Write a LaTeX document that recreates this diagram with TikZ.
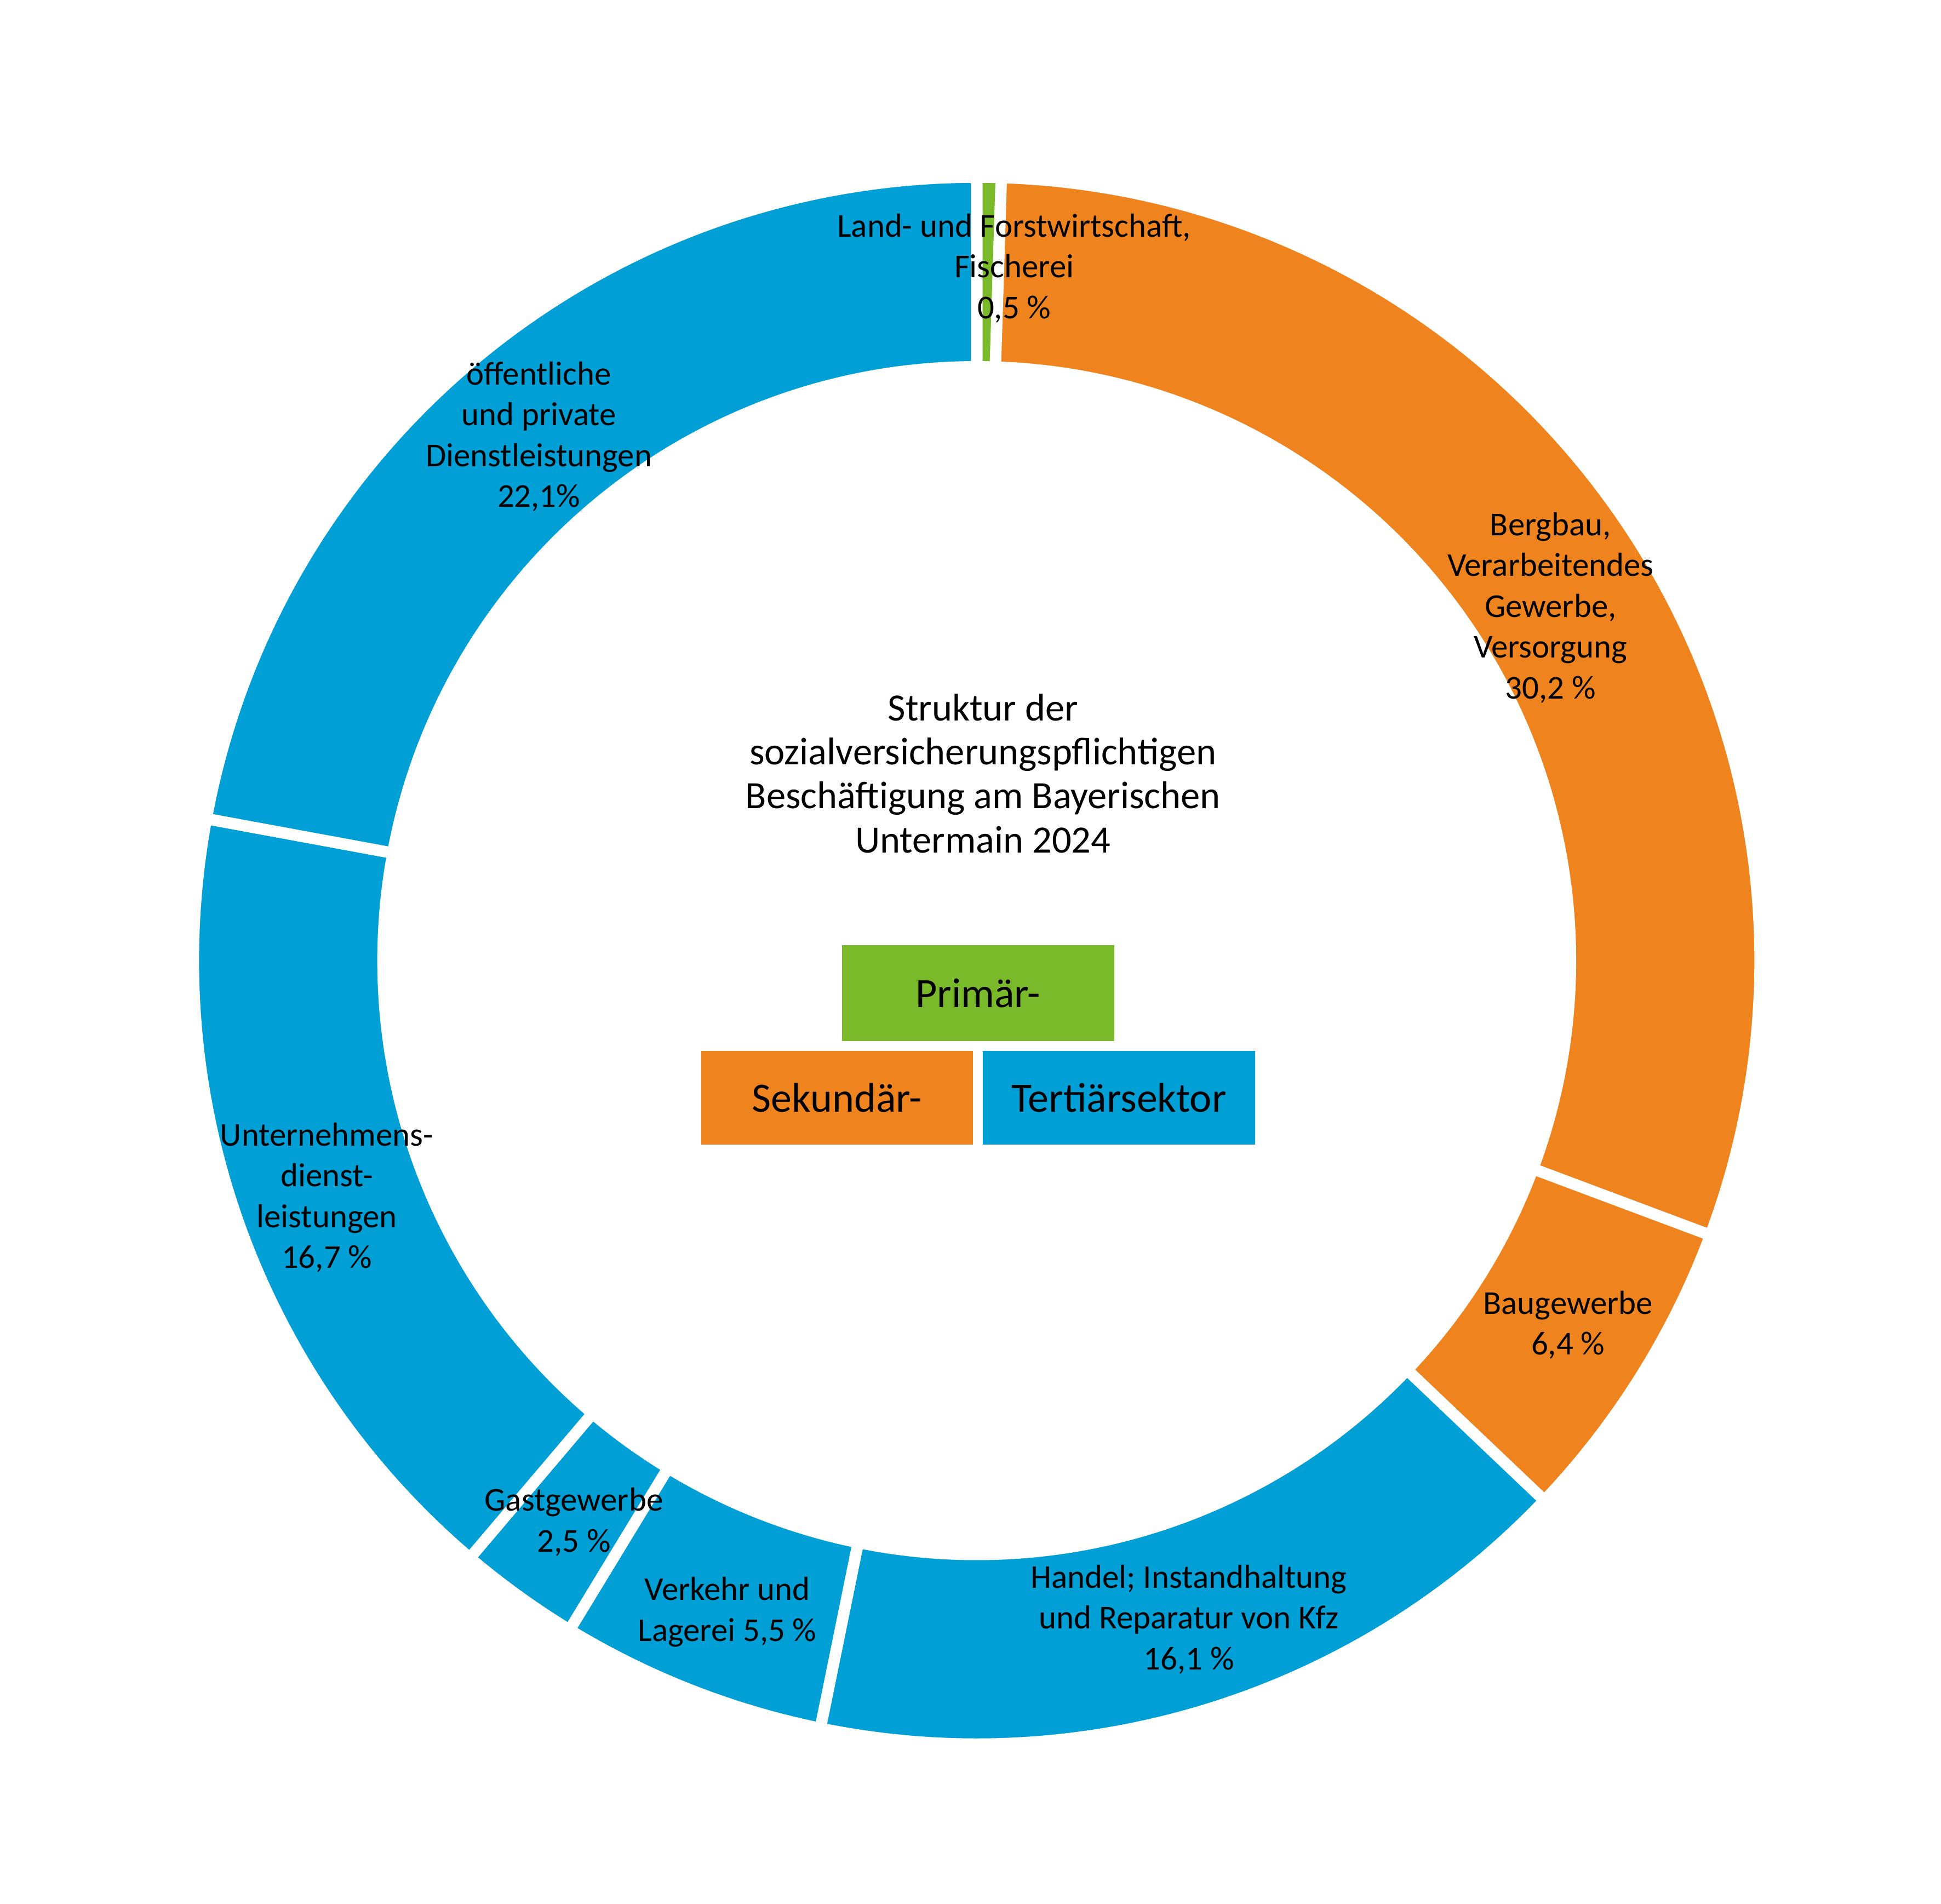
\documentclass[tikz,border=0pt]{standalone}
\usepackage{fontspec}
\setmainfont{Carlito}
\usetikzlibrary{calc}
\definecolor{primgreen}{HTML}{7AB929}
\definecolor{sekorange}{HTML}{EF841E}
\definecolor{tertblue}{HTML}{009FD6}
\begin{document}
\begin{tikzpicture}[x=0.01cm, y=0.01cm,
    every node/.style={align=center, font=\fontsize{7.6}{9.3}\selectfont},
    legbox/.style={minimum width=2.18cm, minimum height=0.76cm, inner sep=0pt, font=\fontsize{9.5}{11}\selectfont}]
  \useasboundingbox (0,0) rectangle (1556,1526);
  \coordinate (C) at (783,756);
  % ring segments, clockwise from the top
  \foreach \a/\b/\col in {90/88.2/primgreen, 88.2/-20.52/sekorange, -20.52/-43.56/sekorange,
        -43.56/-101.52/tertblue, -101.52/-121.32/tertblue, -121.32/-130.32/tertblue,
        -130.32/-190.44/tertblue, -190.44/-270/tertblue} {
    \filldraw[fill=\col, draw=white, line width=2.6pt]
      ($(C)+(\a:628)$) arc[start angle=\a, end angle=\b, radius=628]
      -- ($(C)+(\b:476)$) arc[start angle=\b, end angle=\a, radius=476] -- cycle;
  }
  \node (land) at (813,1311) {Land- und Forstwirtschaft,\\Fischerei\\0,5 \%};
  \node (berg) at (1243,1039) {Bergbau,\\Verarbeitendes\\Gewerbe,\\Versorgung\\30,2 \%};
  \node (bau) at (1257,464) {Baugewerbe\\6,4 \%};
  \node (handel) at (953,228) {Handel; Instandhaltung\\und Reparatur von Kfz\\16,1 \%};
  \node (verkehr) at (583,234) {Verkehr und\\Lagerei 5,5 \%};
  \node (gast) at (460,306) {Gastgewerbe\\2,5 \%};
  \node (untern) at (262,566) {Unternehmens-\\dienst-\\leistungen\\16,7 \%};
  \node (oeff) at (432,1176) {öffentliche\\und private\\Dienstleistungen\\22,1\%};
  \node[font=\fontsize{8.8}{10}\selectfont] (title) at (788,906)
    {Struktur der\\sozialversicherungspflichtigen\\Beschäftigung am Bayerischen\\Untermain 2024};
  % legend
  \node[legbox, fill=primgreen, minimum height=0.77cm] (prim) at (784,730) {Primär-};
  \node[legbox, fill=sekorange, minimum height=0.75cm] (sek) at (671,646) {Sekundär-};
  \node[legbox, fill=tertblue, minimum height=0.75cm] (tert) at (897,646) {Tertiärsektor};
\end{tikzpicture}
\end{document}
